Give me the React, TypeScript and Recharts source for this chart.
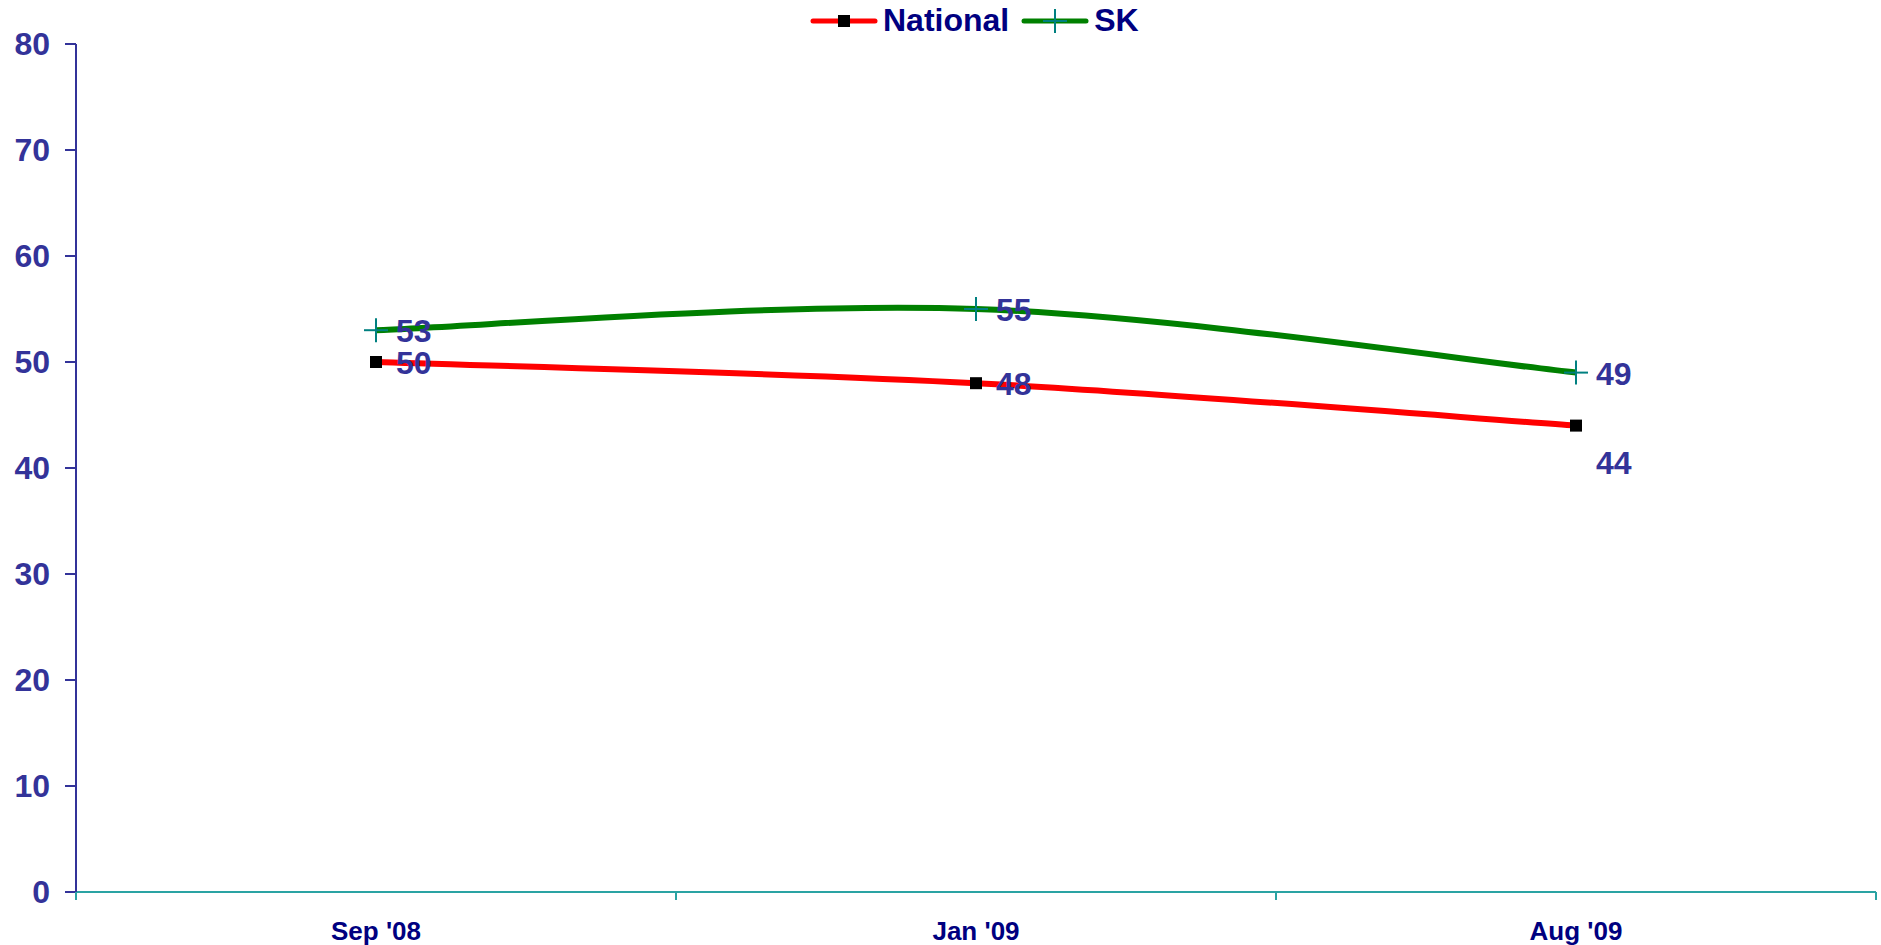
import { LineChart, Line, XAxis, YAxis, LabelList } from "recharts";

const categories = ["Sep '08", "Jan '09", "Aug '09"];
const nationalValues = [50, 48, 44];
const skValues = [53, 55, 49];
const yTicks = [0, 10, 20, 30, 40, 50, 60, 70, 80];
const xTicks = [0, 0.5, 1, 1.5, 2, 2.5, 3];

const data = categories.map((c, i) => ({
  pos: i + 0.5,
  label: c,
  national: nationalValues[i],
  sk: skValues[i],
}));

const FONT = "'Liberation Sans', Arial, sans-serif";

// excel style smoothing (catmull-rom, 1/6 tension)
function excelSmooth(context: any) {
  let pts: number[][] = [];
  return {
    areaStart() {},
    areaEnd() {},
    lineStart() {
      pts = [];
    },
    point(x: number, y: number) {
      pts.push([x, y]);
    },
    lineEnd() {
      if (!pts.length) return;
      context.moveTo(pts[0][0], pts[0][1]);
      for (let i = 0; i < pts.length - 1; i++) {
        const p0 = pts[i - 1] || pts[i];
        const p1 = pts[i];
        const p2 = pts[i + 1];
        const p3 = pts[i + 2] || p2;
        context.bezierCurveTo(
          p1[0] + (p2[0] - p0[0]) / 6,
          p1[1] + (p2[1] - p0[1]) / 6,
          p2[0] - (p3[0] - p1[0]) / 6,
          p2[1] - (p3[1] - p1[1]) / 6,
          p2[0],
          p2[1]
        );
      }
    },
  };
}

function XTick(props: any) {
  const { x, y, payload } = props;
  const v = payload.value;
  if (Number.isInteger(v)) {
    return <line x1={x} y1={y} x2={x} y2={y + 8} stroke="#2aa3a3" strokeWidth={2} />;
  }
  return (
    <text x={x} y={y + 48} textAnchor="middle" fill="#000080" fontSize={26} fontWeight="bold" fontFamily={FONT}>
      {categories[Math.floor(v)]}
    </text>
  );
}

function SquareDot(props: any) {
  const { cx, cy } = props;
  return <rect x={cx - 6} y={cy - 6} width={12} height={12} fill="#000" />;
}

function PlusDot(props: any) {
  const { cx, cy } = props;
  return (
    <g stroke="#008080" strokeWidth={2}>
      <line x1={cx - 12} y1={cy} x2={cx + 12} y2={cy} />
      <line x1={cx} y1={cy - 12} x2={cx} y2={cy + 12} />
    </g>
  );
}

function ValueLabel(props: any) {
  const { x, y, value, index, below } = props;
  const dy = below && index === 2 ? 36 : 0;
  return (
    <text x={x + 20} y={y + dy} dy={12} fill="#333399" fontSize={32} fontWeight="bold" fontFamily={FONT}>
      {value}
    </text>
  );
}

export default function App() {
  return (
    <div style={{ position: "relative", width: 1881, height: 945, background: "#fff" }}>
      <style>{`body{margin:0}`}</style>
      <LineChart width={1881} height={945} data={data} margin={{ top: 44, right: 5, bottom: 0, left: 0 }}>
        <XAxis
          dataKey="pos"
          type="number"
          domain={[0, 3]}
          ticks={xTicks}
          interval={0}
          tickLine={false}
          tickSize={0}
          tickMargin={0}
          height={53}
          axisLine={{ stroke: "#2aa3a3", strokeWidth: 2 }}
          tick={<XTick />}
        />
        <YAxis
          type="number"
          domain={[0, 80]}
          ticks={yTicks}
          interval={0}
          width={76}
          tickSize={11}
          tickMargin={15}
          axisLine={{ stroke: "#333399", strokeWidth: 2 }}
          tickLine={{ stroke: "#333399", strokeWidth: 2 }}
          tick={{ fill: "#333399", fontSize: 32, fontWeight: "bold", fontFamily: FONT }}
        />
        <Line
          dataKey="national"
          type={excelSmooth as any}
          stroke="#ff0000"
          strokeWidth={6}
          dot={<SquareDot />}
          activeDot={false}
          isAnimationActive={false}
        >
          <LabelList dataKey="national" content={<ValueLabel below />} />
        </Line>
        <Line
          dataKey="sk"
          type={excelSmooth as any}
          stroke="#008000"
          strokeWidth={6}
          dot={<PlusDot />}
          activeDot={false}
          isAnimationActive={false}
        >
          <LabelList dataKey="sk" content={<ValueLabel />} />
        </Line>
      </LineChart>
      <div
        style={{
          position: "absolute",
          top: 2,
          left: 810,
          display: "flex",
          alignItems: "center",
          fontFamily: FONT,
          fontWeight: "bold",
          fontSize: 32,
          color: "#000080",
        }}
      >
        <svg width={68} height={20}>
          <line x1={3} y1={10} x2={65} y2={10} stroke="#ff0000" strokeWidth={5} strokeLinecap="round" />
          <rect x={28} y={4} width={12} height={12} fill="#000" />
        </svg>
        <span style={{ marginLeft: 5 }}>National</span>
        <svg width={68} height={28} style={{ marginLeft: 12 }}>
          <line x1={3} y1={14} x2={65} y2={14} stroke="#008000" strokeWidth={5} strokeLinecap="round" />
          <line x1={22} y1={14} x2={46} y2={14} stroke="#008080" strokeWidth={2} />
          <line x1={34} y1={2} x2={34} y2={26} stroke="#008080" strokeWidth={2} />
        </svg>
        <span style={{ marginLeft: 5 }}>SK</span>
      </div>
    </div>
  );
}
